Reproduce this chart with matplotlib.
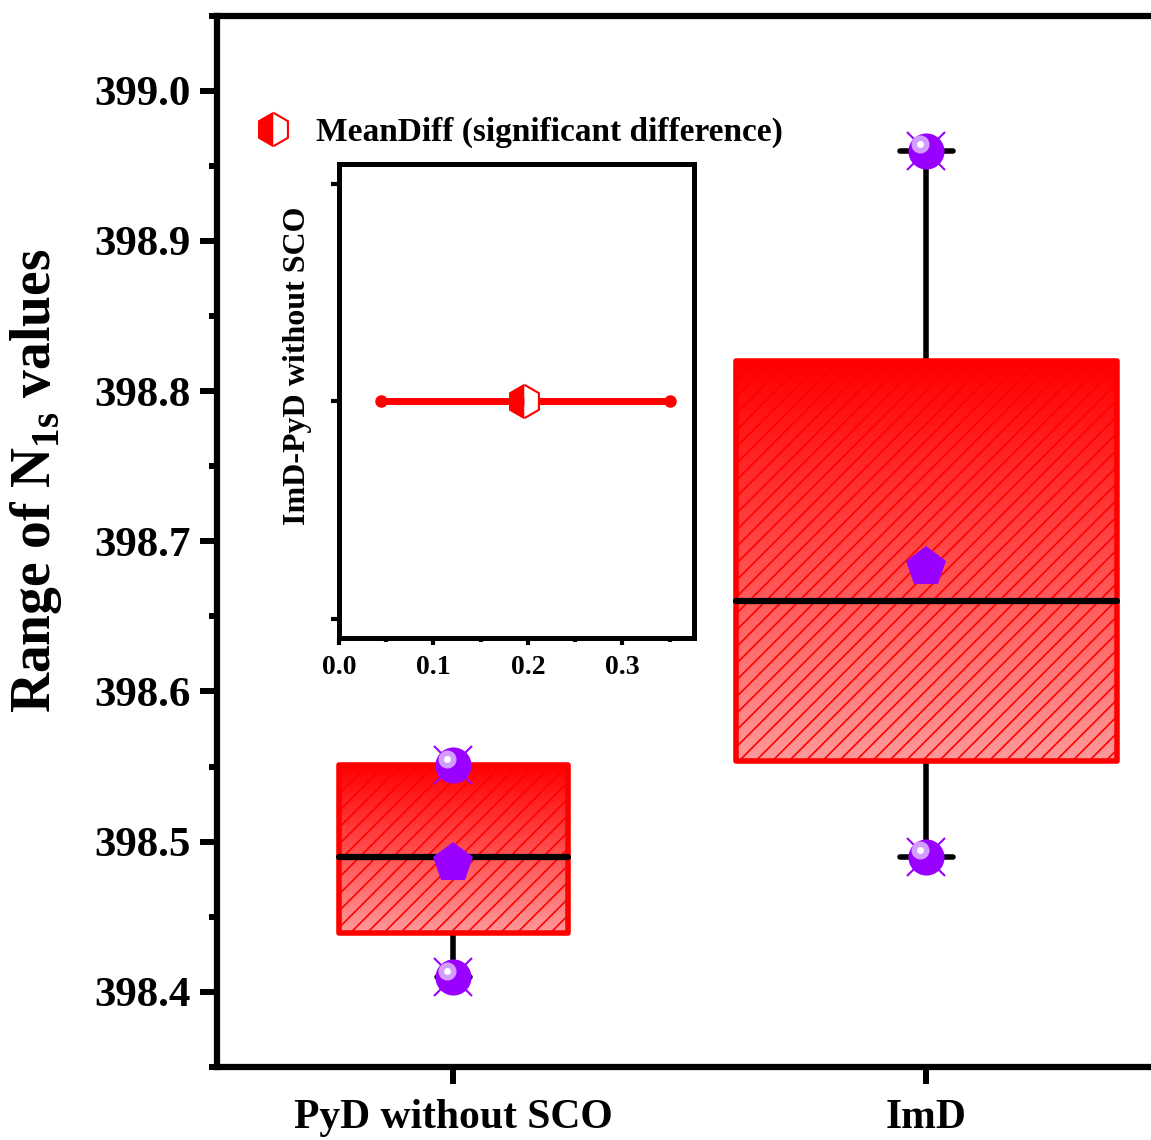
import numpy as np
import matplotlib
matplotlib.use("Agg")
import matplotlib.pyplot as plt
from matplotlib.patches import Rectangle
from matplotlib.lines import Line2D
from matplotlib.ticker import AutoMinorLocator, MultipleLocator
from matplotlib.transforms import offset_copy

# box statistics
groups = ['PyD without SCO', 'ImD']
positions = [1, 2]
q1 = [398.439, 398.554]
q3 = [398.551, 398.820]
medians = [398.490, 398.660]
means = [398.486, 398.683]
mins = [398.410, 398.490]
maxs = [398.551, 398.960]
box_widths = [0.486, 0.805]

# inset: mean difference with CI
diff_mean = 0.196
diff_lo = 0.045
diff_hi = 0.350

plt.rcParams['font.family'] = ['Liberation Serif', 'DejaVu Serif']
plt.rcParams['font.weight'] = 'bold'
plt.rcParams['mathtext.fontset'] = 'custom'
plt.rcParams['mathtext.rm'] = 'Liberation Serif:bold'
plt.rcParams['mathtext.bf'] = 'Liberation Serif:bold'
plt.rcParams['hatch.color'] = 'red'
plt.rcParams['hatch.linewidth'] = 1.2

purple = '#9a00ff'

fig = plt.figure(figsize=(11.51, 11.40), dpi=100)
ax = fig.add_axes([0.1885, 0.064, 0.8219, 0.9224])

# gradient image used for box fills
grad = np.linspace(0, 1, 256)
cols = np.zeros((256, 1, 3))
cols[:, 0, 0] = 1.0
cols[:, 0, 1] = 0.6 * grad
cols[:, 0, 2] = 0.6 * grad

for i in range(len(groups)):
    x = positions[i]
    w = box_widths[i]
    # whiskers + caps
    ax.plot([x, x], [q3[i], maxs[i]], color='k', lw=4, solid_capstyle='round', zorder=1)
    ax.plot([x, x], [mins[i], q1[i]], color='k', lw=4, solid_capstyle='round', zorder=1)
    cw = w * 0.07
    for v in [mins[i], maxs[i]]:
        ax.plot([x - cw, x + cw], [v, v], color='k', lw=4, solid_capstyle='round', zorder=1)
    # gradient fill
    rect = Rectangle((x - w / 2, q1[i]), w, q3[i] - q1[i], facecolor='none', edgecolor='none')
    ax.add_patch(rect)
    im = ax.imshow(cols, extent=[x - w / 2, x + w / 2, q1[i], q3[i]], origin='upper',
                   aspect='auto', zorder=2)
    im.set_clip_path(rect)
    # hatch
    ax.add_patch(Rectangle((x - w / 2, q1[i]), w, q3[i] - q1[i], facecolor='none',
                           edgecolor='red', hatch='//', lw=0, zorder=3))
    # outline
    ax.add_patch(Rectangle((x - w / 2, q1[i]), w, q3[i] - q1[i], facecolor='none',
                           edgecolor='red', lw=4, joinstyle='round', zorder=4))
    # median
    ax.plot([x - w / 2, x + w / 2], [medians[i], medians[i]], color='k', lw=4.5,
            solid_capstyle='round', zorder=5)

# mean markers
ax.plot(positions, means, linestyle='none', marker='p', markersize=30, color=purple,
        markeredgewidth=0, zorder=6)

# min / max spheres
for vals in [mins, maxs]:
    ax.plot(positions, vals, linestyle='none', marker='x', markersize=28, color=purple,
            markeredgewidth=1.5, zorder=7)
    ax.plot(positions, vals, linestyle='none', marker='o', markersize=26, color=purple,
            markeredgewidth=0, zorder=8)
    tr = offset_copy(ax.transData, fig=fig, x=-5, y=4.5, units='points')
    ax.plot(positions, vals, linestyle='none', marker='o', markersize=13, color='#d49cff',
            markeredgewidth=0, transform=tr, zorder=9)
    ax.plot(positions, vals, linestyle='none', marker='o', markersize=5, color='white',
            markeredgewidth=0, transform=tr, zorder=10)

ax.set_xlim(0.5, 2.5)
ax.set_ylim(398.35, 399.05)
ax.set_xticks(positions)
ax.set_xticklabels(groups, fontsize=30, fontweight='bold')
ax.set_yticks(np.arange(398.4, 399.01, 0.1))
ax.set_yticklabels(['%.1f' % v for v in np.arange(398.4, 399.01, 0.1)], fontsize=31,
                   fontweight='bold')
ax.yaxis.set_minor_locator(AutoMinorLocator(2))
ax.tick_params(axis='y', which='major', length=12, width=4.3, pad=7)
ax.tick_params(axis='y', which='minor', length=6, width=4.3)
ax.tick_params(axis='x', which='major', length=12, width=4.3, pad=11)
for s in ax.spines.values():
    s.set_linewidth(4.5)
ax.set_ylabel(r'Range of N$_{\mathbf{1s}}$ values', fontsize=40, fontweight='bold')
ax.yaxis.set_label_coords(-0.162, 0.557)

# legend
h = Line2D([], [], linestyle='none', marker='h', markersize=24, color='red',
           markerfacecolor='red', markerfacecoloralt='white', fillstyle='left',
           markeredgecolor='red', markeredgewidth=1.5)
fig.legend([h], ['MeanDiff (significant difference)'], loc='center left',
           bbox_to_anchor=(0.208, 0.884), frameon=False, handlelength=1.0,
           handletextpad=0.8, borderpad=0, prop={'size': 24, 'weight': 'bold'})

# inset
ax_in = fig.add_axes([0.2945, 0.4404, 0.3084, 0.4158])
ax_in.plot([diff_lo, diff_hi], [1, 1], color='red', lw=5, solid_capstyle='round', zorder=2)
ax_in.plot([diff_lo, diff_hi], [1, 1], linestyle='none', marker='o', markersize=8,
           color='red', zorder=2)
ax_in.plot([diff_mean], [1], linestyle='none', marker='h', markersize=24, color='red',
           markerfacecolor='red', markerfacecoloralt='white', fillstyle='left',
           markeredgecolor='red', markeredgewidth=1.5, zorder=3)
ax_in.set_xlim(0, 0.3757)
ax_in.set_ylim(-0.087, 2.09)
ax_in.set_xticks([0.0, 0.1, 0.2, 0.3])
ax_in.set_xticklabels(['0.0', '0.1', '0.2', '0.3'], fontsize=20, fontweight='bold')
ax_in.xaxis.set_minor_locator(MultipleLocator(0.05))
ax_in.set_yticks([0, 1, 2])
ax_in.set_yticklabels([])
ax_in.tick_params(axis='x', which='major', length=5, width=3, pad=7)
ax_in.tick_params(axis='x', which='minor', length=3, width=3)
ax_in.tick_params(axis='y', which='major', length=6, width=3)
for s in ax_in.spines.values():
    s.set_linewidth(3.6)
ax_in.set_ylabel('ImD-PyD without SCO', fontsize=23, fontweight='bold')
ax_in.yaxis.set_label_coords(-0.075, 0.574)

fig.savefig('out.png', dpi=100)
